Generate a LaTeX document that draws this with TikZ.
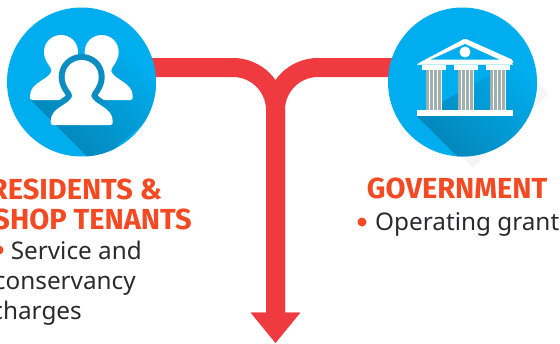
\documentclass[tikz,border=0pt]{standalone}
\usepackage{fontspec}
\setmainfont{Noto Sans}
\newfontfamily\headfont{Fira Sans}
\usetikzlibrary{arrows.meta}
\usetikzlibrary{backgrounds}
\usetikzlibrary{positioning}

\definecolor{skyblue}{HTML}{00AEEF}
\definecolor{shadowblue}{HTML}{0482B5}
\definecolor{ringblue}{HTML}{0A8EC2}
\definecolor{flowred}{HTML}{EF3B40}
\definecolor{headred}{HTML}{F34A24}
\definecolor{bodygrey}{HTML}{2A2A2C}
\definecolor{fluteg}{HTML}{9FB0AE}

\tikzset{
  disc/.style={circle, fill=skyblue, minimum size=149pt, inner sep=0},
  flow/.style={draw=flowred, line width=19pt, rounded corners=42.5pt,
    -{Triangle[width=47.3pt, length=30.3pt, color=flowred]}},
  heading/.style={anchor=base west, inner sep=0, text=headred, font=\headfont\bfseries\fontsize{29}{29}\selectfont},
  bodytext/.style={anchor=base west, inner sep=0, text=bodygrey, font=\fontsize{24.3}{25}\selectfont},
  bulletdot/.style={circle, fill=headred, minimum size=9pt, inner sep=0},
  longshadow/.style={shading=axis, top color=shadowblue, bottom color=skyblue, shading angle=135},
}

% one figure, x = axis of the figure, y = foot of the figure
\newcommand{\personpath}[2]{
  (#1-29,#2) -- (#1+29,#2)
  .. controls (#1+31,#2) and (#1+31,#2-2) .. (#1+31,#2-4)
  .. controls (#1+31,#2-18) and (#1+12,#2-20) .. (#1+9.5,#2-29)
  .. controls (#1+9,#2-33) and (#1+17,#2-38) .. (#1+17,#2-48)
  .. controls (#1+17,#2-58) and (#1+9,#2-65) .. (#1,#2-65)
  .. controls (#1-9,#2-65) and (#1-17,#2-58) .. (#1-17,#2-48)
  .. controls (#1-17,#2-38) and (#1-9,#2-33) .. (#1-9.5,#2-29)
  .. controls (#1-12,#2-20) and (#1-31,#2-18) .. (#1-31,#2-4)
  .. controls (#1-31,#2-2) and (#1-31,#2) .. (#1-29,#2) -- cycle
}

\begin{document}
\begin{tikzpicture}[x=1pt, y=-1pt]
  \useasboundingbox (0,0) rectangle (560,343);
  \clip (0,0) rectangle (560,343);

  \node[disc] (residents)  at (81.5,82)  {};
  \node[disc] (government) at (462.5,82) {};
  \coordinate (outlet) at (275.5,343);

  \begin{scope}[on background layer]
    % faint ends of the temple shadow, past the disc
    \fill[black!4] (534,78) -- (548,94) -- (534,108) -- cycle;
    \fill[black!4] (456,150) -- (473,168) -- (488,153) -- cycle;
    \draw[flow] ([yshift=14.5pt]residents.center) -| (outlet);
    \draw[flow] ([yshift=14.5pt]government.center) -| (outlet);
  \end{scope}

  % residents icon
  \begin{scope}
    \clip (residents.center) circle (74.5);
    \shade[longshadow] (31,100) -- (118,48) -- (170,100) -- (96,165) -- cycle;
  \end{scope}
  \fill[white] \personpath{61}{100};
  \fill[white] \personpath{101.7}{100};
  \begin{scope}
    \clip (0,0) rectangle (160,102);
    \draw[ringblue, line width=12pt, line join=round] \personpath{81.7}{125};
  \end{scope}
  \fill[white] \personpath{81.7}{125};

  % government icon
  \begin{scope}
    \clip (government.center) circle (74.5);
    \shade[longshadow] (416.7,116) -- (513,62) -- (560,108) -- (480,179) -- cycle;
  \end{scope}
  \fill[white, rounded corners=1.5pt] (417,64) -- (465,38.5) -- (513,60) -- (513,64) -- cycle;
  \fill[skyblue] (431,59.5) -- (465,44) -- (499,59.5) -- cycle;
  \fill[white] (465,52) circle (5.5);
  \fill[white!75!skyblue] (417,64) rectangle (513,65);
  \foreach \colx in {0,32,64} {
    \fill[white] (\colx+421.7,65) rectangle (\colx+445.7,69.5);
    \fill[white] (\colx+425.7,69.5) rectangle (\colx+441.7,110);
    \foreach \flute in {0,1,2,3}
      \fill[fluteg] (\colx+426+\flute*4,69.5) rectangle (\colx+428.5+\flute*4,110);
  }
  \fill[white] (417,110) rectangle (513,116);

  % texts
  \node[heading, anchor=base east] (residentshead) at (162,199) {RESIDENTS \&};
  \node[heading, anchor=base east] (tenantshead)   at (192,229) {SHOP TENANTS};
  \node[bodytext, anchor=base east] (residentsone)   at (142,259) {Service and};
  \node[bodytext, anchor=base east] (residentstwo)   at (136,289) {conservancy};
  \node[bodytext, anchor=base east] (residentsthree) at (82,319)  {charges};
  \node[bulletdot] (residentsdot) at (-1,250) {};

  \node[heading]  (governmenthead) at (366.7,198.3) {GOVERNMENT};
  \node[bodytext] (governmentone)  at (375,230)     {Operating grant};
  \node[bulletdot] (governmentdot) at (362,222)     {};
\end{tikzpicture}
\end{document}
